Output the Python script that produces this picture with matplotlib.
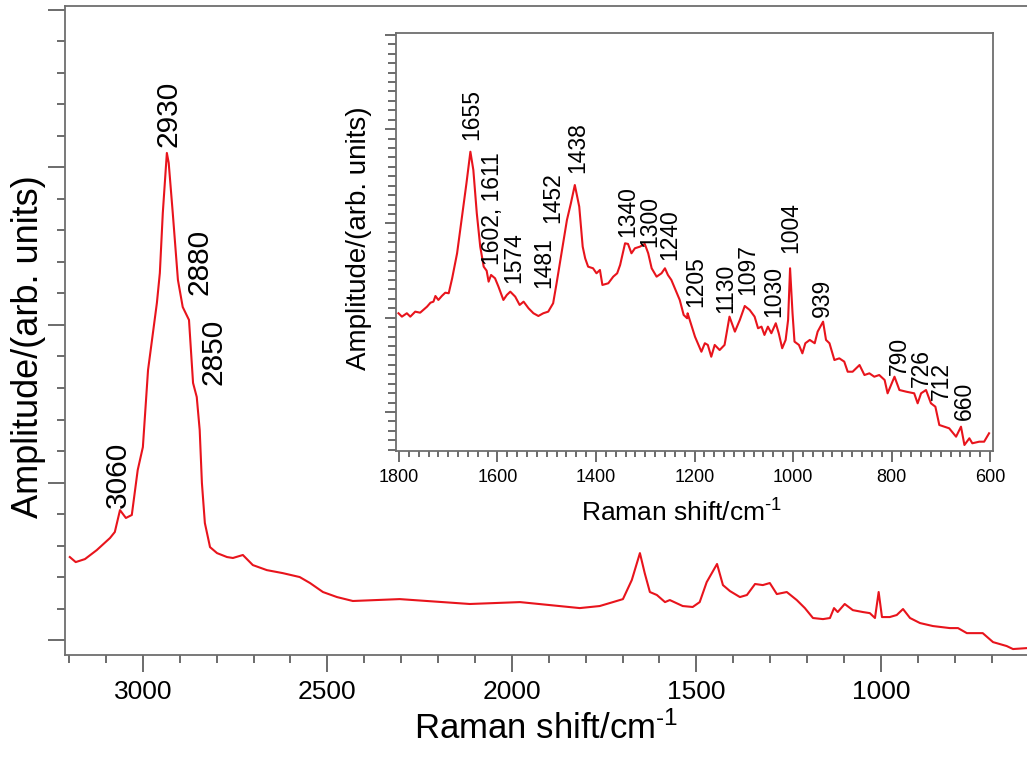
import matplotlib
matplotlib.use('Agg')
import matplotlib.pyplot as plt
from matplotlib.ticker import MultipleLocator, NullFormatter

plt.rcParams['font.family'] = ['Liberation Sans', 'DejaVu Sans']
plt.rcParams['mathtext.fontset'] = 'custom'
plt.rcParams['mathtext.rm'] = 'Liberation Sans'
plt.rcParams['mathtext.it'] = 'Liberation Sans:italic'
plt.rcParams['mathtext.bf'] = 'Liberation Sans:bold'

RED = '#e8141c'
GREY = '#6e6e6e'

# whole spectrum (main panel)
shift_full = [3198, 3182, 3157, 3125, 3089, 3076, 3062, 3046, 3030, 3014,
              3000, 2986, 2962, 2954, 2946, 2935, 2930, 2919, 2905, 2892,
              2875, 2864, 2854, 2846, 2840, 2832, 2818, 2799, 2772, 2756,
              2729, 2702, 2664, 2621, 2575, 2547, 2512, 2474, 2431, 2304,
              2114, 1978, 1897, 1816, 1762, 1726, 1699, 1675, 1653, 1640,
              1626, 1607, 1585, 1572, 1537, 1510, 1491, 1472, 1444, 1428,
              1409, 1382, 1363, 1341, 1320, 1301, 1282, 1255, 1228, 1206,
              1184, 1157, 1138, 1127, 1117, 1098, 1076, 1049, 1030, 1016,
              1006, 997, 976, 957, 940, 921, 894, 859, 813, 791,
              767, 724, 696, 659, 642, 604]
amp_full = [0.527, 0.495, 0.514, 0.571, 0.648, 0.686, 0.825, 0.775, 0.794, 1.079,
            1.225, 1.714, 2.140, 2.330, 2.711, 3.092, 3.029, 2.711, 2.286, 2.114,
            2.032, 1.632, 1.543, 1.333, 0.997, 0.743, 0.590, 0.552, 0.527, 0.521,
            0.540, 0.476, 0.444, 0.425, 0.400, 0.362, 0.305, 0.273, 0.248, 0.260,
            0.229, 0.241, 0.222, 0.203, 0.216, 0.241, 0.260, 0.381, 0.552, 0.425,
            0.305, 0.286, 0.241, 0.254, 0.216, 0.210, 0.241, 0.368, 0.483, 0.349,
            0.311, 0.273, 0.286, 0.356, 0.349, 0.362, 0.292, 0.305, 0.254, 0.203,
            0.140, 0.133, 0.140, 0.203, 0.178, 0.229, 0.190, 0.178, 0.171, 0.140,
            0.305, 0.146, 0.146, 0.159, 0.197, 0.140, 0.108, 0.089, 0.076, 0.076,
            0.044, 0.044, -0.013, -0.038, -0.057, -0.051]

# fingerprint region (inset)
shift_fp = [1801, 1794, 1784, 1777, 1767, 1757, 1743, 1736, 1730, 1726,
            1720, 1713, 1706, 1699, 1692, 1682, 1672, 1663, 1655, 1649,
            1642, 1635, 1628, 1622, 1618, 1613, 1605, 1598, 1588, 1581,
            1574, 1564, 1555, 1547, 1537, 1527, 1517, 1507, 1497, 1487,
            1480, 1470, 1459, 1451, 1443, 1434, 1427, 1422, 1416, 1406,
            1399, 1392, 1387, 1375, 1365, 1357, 1351, 1341, 1335, 1328,
            1321, 1311, 1301, 1294, 1287, 1277, 1267, 1260, 1254, 1247,
            1237, 1230, 1222, 1215, 1214, 1199, 1186, 1179, 1173, 1166,
            1159, 1149, 1139, 1129, 1118, 1108, 1098, 1088, 1078, 1071,
            1064, 1058, 1051, 1044, 1035, 1029, 1022, 1015, 1010, 1006,
            1001, 997, 988, 981, 975, 966, 956, 950, 939, 933,
            926, 916, 906, 896, 889, 879, 865, 855, 845, 835,
            825, 814, 808, 794, 784, 770, 754, 747, 740, 730,
            720, 711, 703, 693, 683, 669, 659, 652, 642, 636,
            622, 612, 602]
amp_fp = [1.047, 1.011, 1.047, 1.011, 1.064, 1.053, 1.117, 1.159, 1.170, 1.230,
          1.188, 1.230, 1.265, 1.259, 1.418, 1.683, 2.071, 2.425, 2.760, 2.566,
          2.107, 1.753, 1.541, 1.498, 1.382, 1.453, 1.418, 1.329, 1.188, 1.241,
          1.276, 1.223, 1.135, 1.170, 1.100, 1.047, 1.018, 1.047, 1.064, 1.153,
          1.365, 1.683, 2.036, 2.213, 2.407, 2.177, 1.753, 1.630, 1.541, 1.524,
          1.471, 1.506, 1.347, 1.365, 1.435, 1.471, 1.559, 1.789, 1.782, 1.683,
          1.736, 1.753, 1.782, 1.683, 1.524, 1.435, 1.471, 1.524, 1.453, 1.400,
          1.276, 1.188, 1.029, 0.994, 1.047, 0.798, 0.639, 0.729, 0.711, 0.586,
          0.711, 0.657, 0.711, 1.011, 0.852, 0.976, 1.124, 1.082, 1.011, 0.888,
          0.905, 0.817, 0.905, 0.835, 0.941, 0.835, 0.676, 0.764, 0.976, 1.524,
          1.047, 0.746, 0.711, 0.622, 0.729, 0.764, 0.729, 0.852, 0.958, 0.764,
          0.729, 0.551, 0.569, 0.534, 0.427, 0.427, 0.498, 0.392, 0.410, 0.374,
          0.392, 0.339, 0.198, 0.374, 0.233, 0.215, 0.198, 0.092, 0.198, 0.233,
          0.092, 0.056, -0.138, -0.156, -0.173, -0.262, -0.156, -0.350, -0.279, -0.332,
          -0.315, -0.315, -0.226]

# peak labels
full_labels = ['3060', '2930', '2880', '2850']
full_lab_x = [3069, 2930, 2846, 2808]
full_lab_y = [0.838, 3.132, 2.190, 1.619]

fp_labels = ['1655', '1602, 1611', '1574', '1481', '1452', '1438', '1340',
             '1300', '1240', '1205', '1130', '1097', '1030', '1004', '939',
             '790', '726', '712', '660']
fp_lab_x = [1653, 1611, 1567, 1507, 1487, 1437, 1335, 1291, 1250, 1198,
            1136, 1092, 1040, 1005, 940, 785, 739, 698, 653]
fp_lab_y = [2.884, 1.559, 1.368, 1.315, 2.004, 2.534, 1.856, 1.750, 1.612,
            1.115, 1.050, 1.241, 1.007, 1.686, 1.007, 0.392, 0.265, 0.127, -0.085]

XLABEL = 'Raman shift/cm$^{\\text{-}1}$'
YLABEL = 'Amplitude/(arb. units)'


def style_axes(ax, major_len, minor_len):
    for s in ax.spines.values():
        s.set_color(GREY)
        s.set_linewidth(1.3)
    ax.tick_params(which='major', direction='out', length=major_len, width=1.1,
                   color='#444444')
    ax.tick_params(which='minor', direction='out', length=minor_len, width=1.1,
                   color='#444444')


fig = plt.figure(figsize=(10.27, 7.57), dpi=100)

# main panel
ax = fig.add_axes([0.0633, 0.1347, 0.9367, 0.8574])
ax.plot(shift_full, amp_full, color=RED, lw=1.5)
ax.set_xlim(3211, 604)
ax.set_ylim(-0.095, 4.025)
ax.spines['right'].set_visible(False)
style_axes(ax, 12, 6)
ax.xaxis.set_major_locator(MultipleLocator(500))
ax.xaxis.set_minor_locator(MultipleLocator(100))
ax.yaxis.set_major_locator(MultipleLocator(1))
ax.yaxis.set_minor_locator(MultipleLocator(0.2))
ax.yaxis.set_major_formatter(NullFormatter())
ax.tick_params(axis='x', labelsize=19, pad=6)
ax.set_xlabel(XLABEL, fontsize=25, labelpad=5)
ax.set_ylabel(YLABEL, fontsize=26)
ax.yaxis.set_label_coords(-0.02, 0.475)

for t, x, y in zip(full_labels, full_lab_x, full_lab_y):
    ax.text(x, y, t, rotation=90, ha='center', va='bottom', fontsize=21.5)

# inset
ins = fig.add_axes([0.3856, 0.4042, 0.5813, 0.5522])
ins.plot(shift_fp, amp_fp, color=RED, lw=1.5)
ins.set_xlim(1806, 594)
ins.set_ylim(-0.414, 4.019)
style_axes(ins, 8, 4)
ins.xaxis.set_major_locator(MultipleLocator(200))
ins.xaxis.set_minor_locator(MultipleLocator(20))
ins.yaxis.set_major_locator(MultipleLocator(1))
ins.yaxis.set_minor_locator(MultipleLocator(0.1))
ins.yaxis.set_major_formatter(NullFormatter())
ins.tick_params(axis='y', which='minor', length=6)
ins.tick_params(axis='x', labelsize=13, pad=5)
ins.set_xlabel(XLABEL, fontsize=19)
ins.xaxis.set_label_coords(0.478, -0.115)
ins.set_ylabel(YLABEL, fontsize=20)
ins.yaxis.set_label_coords(-0.04, 0.51)

for t, x, y in zip(fp_labels, fp_lab_x, fp_lab_y):
    ins.text(x, y, t, rotation=90, ha='center', va='bottom', fontsize=16.5)

fig.savefig('out.png', dpi=100)
